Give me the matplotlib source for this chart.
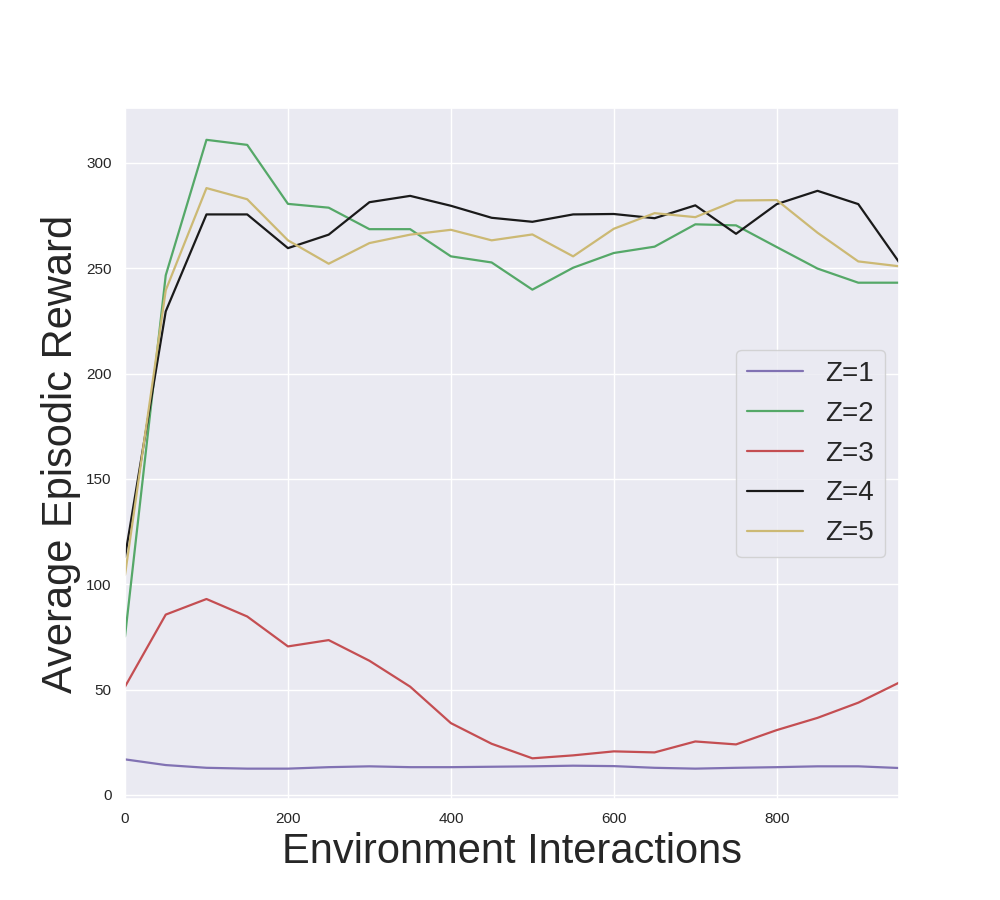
import matplotlib
matplotlib.use("Agg")
import matplotlib.pyplot as plt
import seaborn as sns

sns.set_theme(color_codes=True)
plt.rcParams['font.family'] = ['Liberation Sans', 'DejaVu Sans']

# Umgebungsinteraktionen
steps = [0, 50, 100, 150, 200, 250, 300, 350, 400, 450,
         500, 550, 600, 650, 700, 750, 800, 850, 900, 950]

# Durchschnittliche Belohnung je Z
z1 = [16.9, 14.2, 12.9, 12.5, 12.5, 13.2, 13.6, 13.2, 13.2, 13.4,
      13.6, 13.9, 13.7, 12.9, 12.5, 12.9, 13.2, 13.6, 13.6, 12.8]
z2 = [75.2, 246.6, 310.9, 308.5, 280.5, 278.7, 268.5, 268.5, 255.6, 252.7,
      239.8, 250.2, 257.2, 260.2, 270.8, 270.3, 260.0, 249.8, 243.1, 243.1]
z3 = [51.4, 85.6, 93.0, 84.7, 70.5, 73.5, 63.7, 51.4, 34.1, 24.3,
      17.4, 18.8, 20.7, 20.2, 25.4, 24.0, 30.8, 36.6, 43.8, 53.3]
z4 = [113.0, 229.5, 275.5, 275.5, 259.5, 265.9, 281.3, 284.3, 279.6, 273.9,
      272.0, 275.5, 275.7, 273.7, 279.8, 266.3, 280.4, 286.7, 280.4, 252.9]
z5 = [104.4, 239.5, 288.0, 282.7, 263.2, 252.1, 261.9, 265.9, 268.2, 263.2,
      266.0, 255.6, 268.7, 276.1, 274.2, 282.1, 282.3, 266.8, 253.2, 250.9]

series = [z1, z2, z3, z4, z5]
labels = ['Z=1', 'Z=2', 'Z=3', 'Z=4', 'Z=5']
colors = ['m', 'g', 'r', 'k', 'y']

fig, ax = plt.subplots(figsize=(10, 9), dpi=100)

for vals, lab, col in zip(series, labels, colors):
    ax.plot(steps, vals, color=col, label=lab, linewidth=1.6)

ax.set_xlim(0, 950)
ax.set_ylim(-2, 326)
ax.set_xticks([0, 200, 400, 600, 800])
ax.set_yticks([0, 50, 100, 150, 200, 250, 300])
ax.tick_params(labelsize=11)
ax.set_xlabel('Environment Interactions', fontsize=30)
ax.set_ylabel('Average Episodic Reward', fontsize=30)
ax.legend(loc='center right', fontsize=20)

plt.subplots_adjust(left=0.125, right=0.899, top=0.88, bottom=0.112)
plt.savefig("out.png")
